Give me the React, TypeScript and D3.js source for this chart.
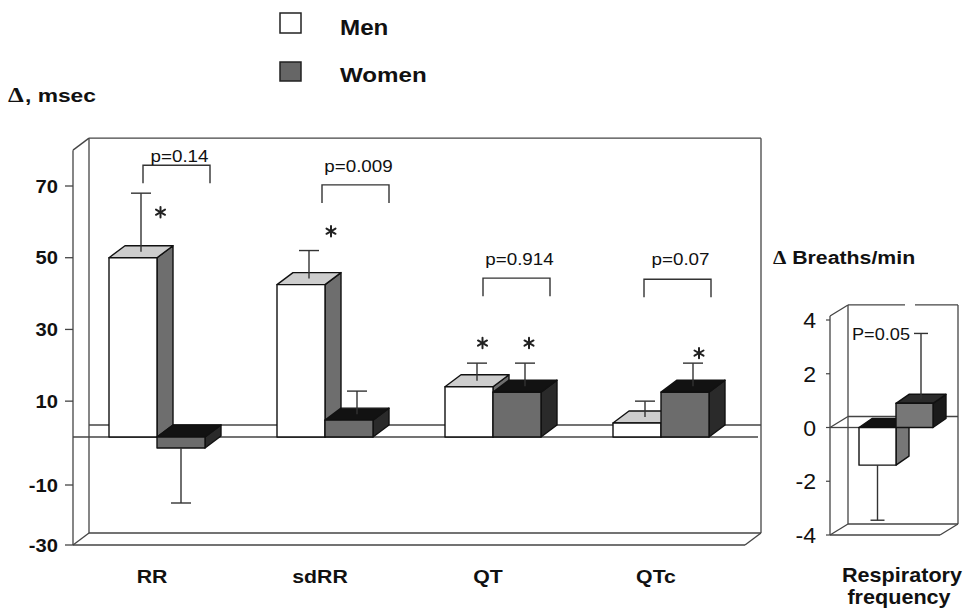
import React from 'react';
import * as d3 from 'd3';

// ---------- data ----------
const categories = ['RR', 'sdRR', 'QT', 'QTc'];
const sexes = ['Men', 'Women'];
const menValues = [50, 42.5, 14, 3.9];
const womenValues = [-2.3, 4.7, 12.5, 12.5];
const menSEM = [18, 9.5, 6.6, 6.1];
const womenSEM = [13.7, 8.1, 8.1, 8.1];
const menStarLevels: (number | null)[] = [62.7, 57.4, 26.2, null];
const womenStarLevels: (number | null)[] = [null, null, 26.2, 23.4];
const pLabels = ['p=0.14', 'p=0.009', 'p=0.914', 'p=0.07'];
const bracketLevels = [75.8, 70.3, 44.3, 44];
const pTextLevels = [76.7, 73.9, 48, 48];
const yTickValues = [70, 50, 30, 10, -10, -30];

const respCategories = ['Respiratory frequency'];
const respMen = [-1.4];
const respWomen = [0.9];
const respMenSEM = [2.05];
const respWomenSEM = [2.6];
const respTickValues = [4, 2, 0, -2, -4];
const respPLabel = 'P=0.05';

// ---------- style ----------
const SANS = '"Liberation Sans", Arial, Helvetica, sans-serif';
const SERIF = '"Liberation Serif", "Times New Roman", serif';
const LINE = '#444';
const EDGE = '#111';

const T = ({ x, y, sx = 1.12, anchor = 'start', size, weight = 'bold', family = SANS, children, fill = '#111' }: any) => (
  <text
    transform={`translate(${x},${y}) scale(${sx},1)`}
    textAnchor={anchor}
    fontSize={size}
    fontWeight={weight}
    fontFamily={family}
    fill={fill}
  >
    {children}
  </text>
);

const Star = ({ cx, cy, r = 5.2 }: any) => (
  <g stroke="#222" strokeWidth={2} strokeLinecap="round">
    {[90, 30, 150].map((a) => {
      const rad = (a * Math.PI) / 180;
      return (
        <line
          key={a}
          x1={cx - r * Math.cos(rad)}
          y1={cy - r * Math.sin(rad)}
          x2={cx + r * Math.cos(rad)}
          y2={cy + r * Math.sin(rad)}
        />
      );
    })}
  </g>
);

const Bar3D = ({ xa, xb, yTop, yBot, dx, dy, front, top, side }: any) => {
  const pts = (a: number[][]) => a.map((p) => p.join(',')).join(' ');
  return (
    <g stroke={EDGE} strokeWidth={1.4} strokeLinejoin="round">
      <polygon points={pts([[xb, yTop], [xb + dx, yTop + dy], [xb + dx, yBot + dy], [xb, yBot]])} fill={side} />
      <polygon points={pts([[xa, yTop], [xb, yTop], [xb + dx, yTop + dy], [xa + dx, yTop + dy]])} fill={top} />
      <rect x={xa} y={yTop} width={xb - xa} height={Math.max(0, yBot - yTop)} fill={front} />
    </g>
  );
};

const ErrBar = ({ x, y1, y2, cap }: any) => (
  <g stroke="#333" strokeWidth={1.4}>
    <line x1={x} y1={y1} x2={x} y2={y2} />
    <line x1={x - cap / 2} y1={y2} x2={x + cap / 2} y2={y2} />
  </g>
);

export default function App() {
  // ---------- main panel scales ----------
  const y = d3.scaleLinear().domain([-30, -10, 0, 70]).range([545, 485, 437, 186]);
  const x0 = d3.scaleBand().domain(categories).range([73, 745]);
  const x1 = d3.scaleBand().domain(sexes).range([0, x0.bandwidth()]).paddingOuter(0.75);
  const DX = 16;
  const DY = -12;
  const bw = x1.bandwidth();

  const left = x0.range()[0];
  const frontRight = x0.range()[1];
  const topY = y(80);
  const floorY = y(-30);
  const zeroY = y(0);

  // annotation nudges (hand placement in the original figure)
  const bracketShift = [-14, -3, -10, -17];
  const menStarShift = [27.5, 30, 13.5, 0];
  const womenStarShift = [0, 0, 12, 14];

  const series = [
    { key: 'Men', values: menValues, sem: menSEM, front: '#ffffff', top: '#cdcdcd', side: '#6e6e6e' },
    { key: 'Women', values: womenValues, sem: womenSEM, front: '#6c6c6c', top: '#121212', side: '#2a2a2a' },
  ];

  // ---------- respiratory panel scales ----------
  const yr = d3.scaleLinear().domain([-4, 4]).range([535, 320]);
  const xr0 = d3.scaleBand().domain(respCategories).range([830, 962]);
  const xr1 = d3.scaleBand().domain(sexes).range([0, xr0.bandwidth()]).paddingOuter(0.784);
  const rbw = xr1.bandwidth();
  const RDX = 13;
  const RDY = -9;
  const rLeft = 830;
  const rFrontRight = 940;
  const rBDX = 18;
  const rBDY = -11;
  const rTop = yr(4.15);
  const rFloor = yr(-4);
  const rZero = yr(0);

  const respSeries = [
    { key: 'Men', values: respMen, sem: respMenSEM, front: '#ffffff', top: '#121212', side: '#777777' },
    { key: 'Women', values: respWomen, sem: respWomenSEM, front: '#777777', top: '#2b2b2b', side: '#1a1a1a' },
  ];

  return (
    <svg
      width={967}
      height={609}
      style={{ position: 'absolute', left: 0, top: 0, display: 'block', background: '#fff' }}
    >
      <rect x={0} y={0} width={967} height={609} fill="#fff" />

      {/* legend */}
      <rect x={280} y={13} width={21} height={20} fill="#fff" stroke="#222" strokeWidth={1.5} />
      <T x={340} y={35} size={22} sx={1.1}>Men</T>
      <rect x={280} y={62} width={21} height={19} fill="#666" stroke="#222" strokeWidth={1.5} />
      <T x={340} y={82} size={21} sx={1.15}>Women</T>

      {/* y-axis title */}
      <text transform="translate(8,102) scale(1.2,1)" fontWeight="bold" fill="#111">
        <tspan fontFamily={SERIF} fontSize={21}>Δ</tspan>
        <tspan fontFamily={SANS} fontSize={19} dx={1}>, msec</tspan>
      </text>

      {/* ---------- main panel frame ---------- */}
      <g stroke={LINE} strokeWidth={1.3} fill="none">
        <line x1={left + DX} y1={topY + DY} x2={frontRight + DX} y2={topY + DY} />
        <line x1={frontRight + DX} y1={topY + DY} x2={frontRight + DX} y2={floorY + DY} />
        <line x1={left + DX} y1={topY + DY} x2={left + DX} y2={floorY + DY} />
        <line x1={left + DX} y1={floorY + DY} x2={frontRight + DX} y2={floorY + DY} />
        <line x1={left} y1={topY} x2={left} y2={floorY} />
        <line x1={left} y1={topY} x2={left + DX} y2={topY + DY} />
        <line x1={left} y1={floorY} x2={left + DX} y2={floorY + DY} />
        <line x1={left} y1={floorY} x2={frontRight} y2={floorY} />
        <line x1={frontRight} y1={floorY} x2={frontRight + DX} y2={floorY + DY} />
        {/* zero planes */}
        <line x1={left + DX} y1={zeroY + DY} x2={frontRight + DX} y2={zeroY + DY} />
        <line x1={left} y1={zeroY} x2={frontRight + DX - 3} y2={zeroY} />
      </g>

      {/* y ticks */}
      {yTickValues.map((t) => (
        <g key={t}>
          <line x1={left - 8} y1={y(t)} x2={left} y2={y(t)} stroke={LINE} strokeWidth={1.3} />
          <T x={58} y={y(t) + 6.5} size={18} anchor="end" sx={1.12}>{t}</T>
        </g>
      ))}

      {/* bars */}
      {categories.map((c, i) =>
        series.map((s) => {
          const v = s.values[i];
          const xa = (x0(c) as number) + (x1(s.key) as number);
          return (
            <Bar3D
              key={c + s.key}
              xa={xa}
              xb={xa + bw}
              yTop={y(Math.max(v, 0))}
              yBot={y(Math.min(v, 0))}
              dx={DX}
              dy={DY}
              front={s.front}
              top={s.top}
              side={s.side}
            />
          );
        })
      )}

      {/* error bars */}
      {categories.map((c, i) =>
        series.map((s) => {
          const v = s.values[i];
          const xa = (x0(c) as number) + (x1(s.key) as number);
          const xc = xa + bw / 2;
          if (v >= 0) {
            return <ErrBar key={c + s.key} x={xc + DX / 2} y1={y(v) + DY / 2} y2={y(v + s.sem[i])} cap={20} />;
          }
          return <ErrBar key={c + s.key} x={xc} y1={y(v)} y2={y(v - s.sem[i])} cap={20} />;
        })
      )}

      {/* significance stars */}
      {categories.map((c, i) => {
        const xm = (x0(c) as number) + (x1('Men') as number) + bw / 2;
        const xw = (x0(c) as number) + (x1('Women') as number) + bw / 2;
        return (
          <g key={c}>
            {menStarLevels[i] != null && <Star cx={xm + menStarShift[i]} cy={y(menStarLevels[i] as number)} />}
            {womenStarLevels[i] != null && <Star cx={xw + womenStarShift[i]} cy={y(womenStarLevels[i] as number)} />}
          </g>
        );
      })}

      {/* p-value brackets */}
      {categories.map((c, i) => {
        const gc = (x0(c) as number) + x0.bandwidth() / 2;
        const l = gc + bracketShift[i];
        const r = l + 67;
        const by = y(bracketLevels[i]);
        return (
          <g key={c}>
            <path d={`M${l},${by + 18}V${by}H${r}V${by + 18}`} fill="none" stroke="#333" strokeWidth={1.4} />
            <T x={(l + r) / 2 + 3} y={y(pTextLevels[i])} size={16.5} weight="normal" anchor="middle" sx={1.14}>
              {pLabels[i]}
            </T>
          </g>
        );
      })}

      {/* category labels */}
      {categories.map((c) => (
        <T key={c} x={(x0(c) as number) + x0.bandwidth() / 2 - 5} y={583} size={19} anchor="middle" sx={1.12}>
          {c}
        </T>
      ))}

      {/* ---------- respiratory panel ---------- */}
      <T x={773} y={264} size={19} sx={1.12}>
        <tspan fontFamily={SERIF}>Δ</tspan> Breaths/min
      </T>

      <g stroke={LINE} strokeWidth={1.3} fill="none">
        <line x1={rLeft + rBDX} y1={rTop + rBDY} x2={905} y2={rTop + rBDY} />
        <line x1={915} y1={rTop + rBDY} x2={rFrontRight + rBDX} y2={rTop + rBDY} />
        <line x1={rFrontRight + rBDX} y1={rTop + rBDY} x2={rFrontRight + rBDX} y2={rFloor + rBDY} />
        <line x1={rLeft + rBDX} y1={rTop + rBDY} x2={rLeft + rBDX} y2={rFloor + rBDY} />
        <line x1={rLeft + rBDX} y1={rFloor + rBDY} x2={rFrontRight + rBDX} y2={rFloor + rBDY} />
        <line x1={rLeft} y1={rTop} x2={rLeft} y2={rFloor} />
        <line x1={rLeft} y1={rTop} x2={rLeft + rBDX} y2={rTop + rBDY} />
        <line x1={rLeft} y1={rFloor} x2={rLeft + rBDX} y2={rFloor + rBDY} />
        <line x1={rLeft} y1={rFloor} x2={rFrontRight} y2={rFloor} />
        <line x1={rFrontRight} y1={rFloor} x2={rFrontRight + rBDX} y2={rFloor + rBDY} />
        <line x1={rLeft} y1={rZero} x2={rLeft + rBDX} y2={rZero + rBDY} />
        <line x1={rLeft + rBDX} y1={rZero + rBDY} x2={rFrontRight + rBDX} y2={rZero + rBDY} />
        <line
          x1={rLeft}
          y1={rZero}
          x2={(xr0(respCategories[0]) as number) + (xr1('Men') as number)}
          y2={rZero}
        />
      </g>

      {respTickValues.map((t) => (
        <g key={t}>
          <line x1={rLeft - 4} y1={yr(t)} x2={rLeft} y2={yr(t)} stroke={LINE} strokeWidth={1.2} />
          <T x={816} y={yr(t) + 8} size={22} weight="normal" anchor="end" sx={1.05}>{t}</T>
        </g>
      ))}

      {respCategories.map((c, i) =>
        respSeries.map((s) => {
          const v = s.values[i];
          const xa = (xr0(c) as number) + (xr1(s.key) as number);
          return (
            <Bar3D
              key={c + s.key}
              xa={xa}
              xb={xa + rbw}
              yTop={yr(Math.max(v, 0))}
              yBot={yr(Math.min(v, 0))}
              dx={RDX}
              dy={RDY}
              front={s.front}
              top={s.top}
              side={s.side}
            />
          );
        })
      )}

      {respCategories.map((c, i) =>
        respSeries.map((s) => {
          const v = s.values[i];
          const xa = (xr0(c) as number) + (xr1(s.key) as number);
          const xc = xa + rbw / 2;
          if (v >= 0) {
            return <ErrBar key={c + s.key} x={xc + RDX / 2} y1={yr(v) + RDY / 2} y2={yr(v + s.sem[i])} cap={14} />;
          }
          return <ErrBar key={c + s.key} x={xc} y1={yr(v)} y2={yr(v - s.sem[i])} cap={14} />;
        })
      )}

      {respCategories.map((c, i) => {
        const xw = (xr0(c) as number) + (xr1('Women') as number) + rbw / 2 + RDX / 2;
        return (
          <T key={c} x={xw - 11} y={yr(respWomen[i] + respWomenSEM[i]) + 7} size={16.5} weight="normal" anchor="end" sx={1.1}>
            {respPLabel}
          </T>
        );
      })}

      <T x={902} y={582} size={20} anchor="middle" sx={1.08}>Respiratory</T>
      <T x={899} y={604} size={20} anchor="middle" sx={1.08}>frequency</T>
    </svg>
  );
}
